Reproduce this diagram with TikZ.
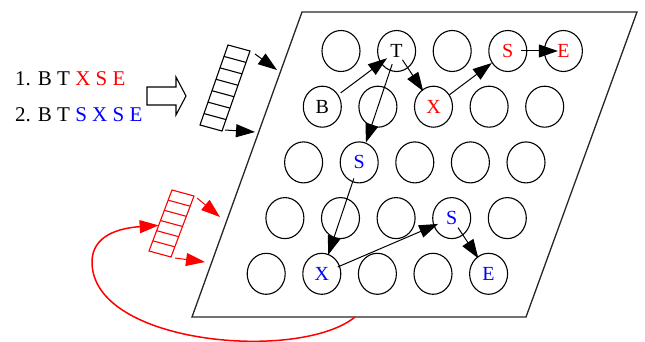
\documentclass[tikz,border=0pt]{standalone}
\usepackage{fontspec}
\setmainfont{Liberation Serif}
\usetikzlibrary{arrows.meta,calc,shapes.geometric}

\begin{document}
\begin{tikzpicture}[x=1pt,y=-1pt,
    cell/.style={ellipse,draw,line width=1.1pt,minimum width=38pt,minimum height=41pt,inner sep=0pt},
    letter/.style={inner sep=0pt,font=\fontsize{20}{20}\selectfont},
    link/.style={-{Triangle[length=19pt,width=13pt]},line width=1pt},
    seqtext/.style={anchor=base west,inner sep=0pt,font=\fontsize{21}{21}\selectfont}]
    \useasboundingbox (0,0) rectangle (645,342);

    % Draw the board
    \draw[line width=1.3pt,black!85] (302,12) -- (637,12) -- (526,317) -- (192,317) -- cycle;
    \coordinate (board) at (355,317);

    % Draw the grid of cells
    \foreach \r in {0,...,4} {
        \foreach \c in {0,...,4} {
            \node[cell] (c\r\c) at ({341-18.7*\r+55.6*\c},{51+55.7*\r}) {};
        }
    }

    % Letters inside the cells
    \foreach \n/\t/\col in {c01/T/black, c03/S/red, c04/E/red, c10/B/black, c12/X/red,
                            c21/S/blue, c33/S/blue, c41/X/blue, c44/E/blue} {
        \node[letter,text=\col] (l\n) at (\n) {\t};
    }

    % Arrows between cells (source/target/shorten start/shorten end)
    \foreach \a/\b/\s/\e in {c10/c01/3/-8, c01/c12/-10/-2, c01/c21/-7/0, c12/c03/0/0,
                             c03/c04/-6/-14, c21/c41/-4/-1, c41/c33/-2.5/-5, c33/c44/-9/-2} {
        \draw[link,shorten <=\s pt,shorten >=\e pt] (\a) -- (\b);
    }

    % The two sequences
    \node[seqtext] (seq1) at (15,86) {1. B T \textcolor{red}{X S E}};
    \node[seqtext] (seq2) at (15,122) {2. B T \textcolor{blue}{S X S E}};

    % Hollow arrow
    \draw[line width=1.1pt] (147,87) -- (176,87) -- (176,77) -- (186,96) -- (176,115) -- (176,105) -- (147,105) -- cycle;

    % Black queue
    \coordinate (qa) at (228,45);
    \coordinate (qb) at (250,51);
    \coordinate (qc) at (222,131);
    \coordinate (qd) at (200,125);
    \draw[line width=1.1pt] (qa) -- (qb) -- (qc) -- (qd) -- cycle;
    \foreach \i in {1,...,6} {
        \draw[line width=1.1pt] ($(qa)!\i/7!(qd)$) -- ($(qb)!\i/7!(qc)$);
    }
    \coordinate (qin1) at (255,54);
    \coordinate (qout1) at (277,70);
    \coordinate (qin2) at (225,130);
    \coordinate (qout2) at (255,132);
    \draw[link] (qin1) -- (qout1);
    \draw[link] (qin2) -- (qout2);

    % Red queue
    \coordinate (ra) at (172,190);
    \coordinate (rb) at (194,196);
    \coordinate (rc) at (171,257);
    \coordinate (rd) at (149,251);
    \draw[red,line width=1.1pt] (ra) -- (rb) -- (rc) -- (rd) -- cycle;
    \foreach \i in {1,...,5} {
        \draw[red,line width=1.1pt] ($(ra)!\i/6!(rd)$) -- ($(rb)!\i/6!(rc)$);
    }
    \coordinate (rin1) at (197,198);
    \coordinate (rout1) at (220,217);
    \coordinate (rin2) at (175,258);
    \coordinate (rout2) at (205,262);
    \draw[link,red] (rin1) -- (rout1);
    \draw[link,red] (rin2) -- (rout2);

    % Feedback curve back to the red queue
    \coordinate (rback) at ($(ra)!0.58!(rd)$);
    \draw[link,red,line width=1.5pt] (board) .. controls (300,362) and (92,345) .. (92,262)
        .. controls (92,235) and (120,228) .. (rback);
\end{tikzpicture}
\end{document}
